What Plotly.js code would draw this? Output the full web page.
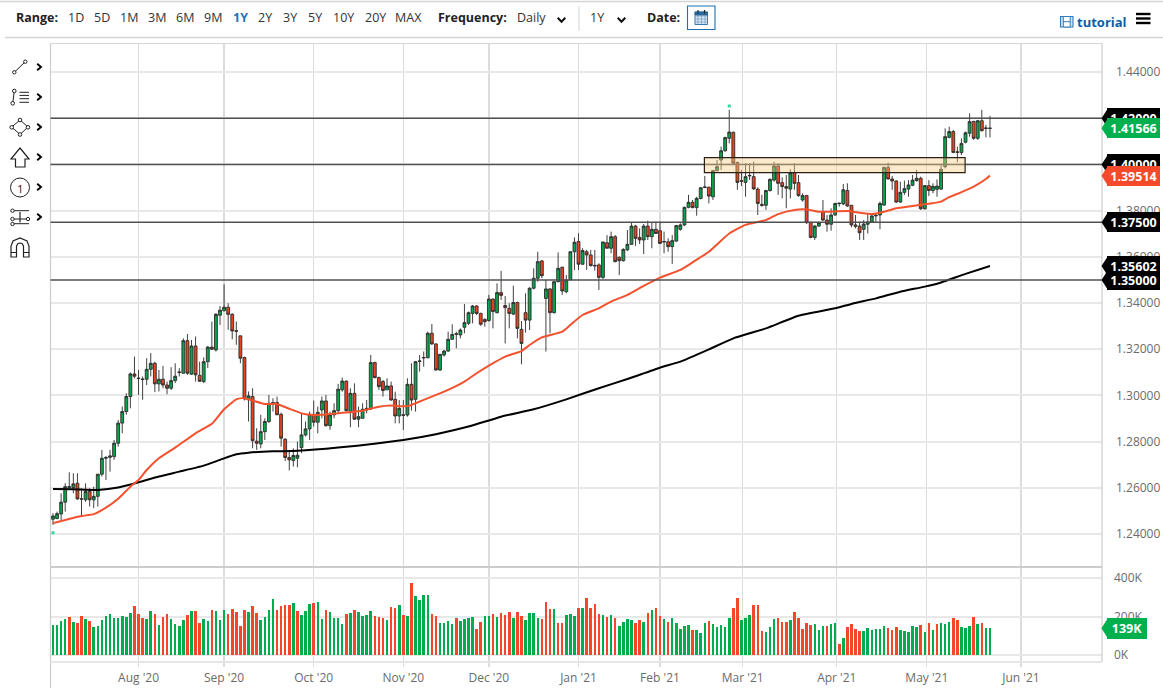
<!DOCTYPE html>
<html><head><meta charset="utf-8">
<script src="https://cdn.plot.ly/plotly-3.0.1.min.js"></script>
<style>html,body{margin:0;padding:0;background:#fff}#chart{width:1163px;height:696px}</style>
</head><body><div id="chart"></div>
<script>
// Daily candles, each row: open, high, low, close
const candlesSummer = [
[1.2464,1.2490,1.2439,1.2478],[1.2467,1.2497,1.2464,1.2488],[1.2487,1.2576,1.2461,1.2538],[1.2538,1.2620,1.2497,1.2605],[1.2601,1.2667,1.2598,1.2605],[1.2601,1.2663,1.2576,1.2617],[1.2620,1.2663,1.2548,1.2552],[1.2553,1.2598,1.2480,1.2551],[1.2548,1.2620,1.2540,1.2584],[1.2584,1.2598,1.2519,1.2548],
[1.2548,1.2605,1.2512,1.2563],[1.2563,1.2659,1.2519,1.2659],[1.2659,1.2764,1.2649,1.2728],[1.2728,1.2738,1.2634,1.2731],[1.2732,1.2764,1.2670,1.2738],[1.2735,1.2807,1.2721,1.2793],[1.2793,1.2894,1.2778,1.2880],[1.2880,1.2952,1.2836,1.2930],[1.2930,1.3009,1.2916,1.2995],[1.2995,1.3099,1.2944,1.3093],
[1.3093,1.3168,1.3074,1.3083],[1.3075,1.3110,1.3002,1.3073],[1.3071,1.3082,1.2981,1.3069],[1.3070,1.3161,1.3045,1.3113],[1.3113,1.3183,1.3082,1.3139],[1.3139,1.3146,1.3014,1.3050],[1.3050,1.3110,1.3017,1.3070],[1.3070,1.3128,1.3031,1.3045],[1.3045,1.3060,1.3005,1.3031],[1.3031,1.3122,1.3024,1.3064],
[1.3064,1.3139,1.3053,1.3083],[1.3099,1.3118,1.3082,1.3101],[1.3096,1.3247,1.3096,1.3237],[1.3237,1.3266,1.3089,1.3096],[1.3092,1.3240,1.3089,1.3214],[1.3214,1.3255,1.3060,1.3089],[1.3087,1.3146,1.3060,1.3061],[1.3060,1.3165,1.3053,1.3146],[1.3146,1.3214,1.3118,1.3209],[1.3209,1.3320,1.3197,1.3200],
[1.3197,1.3356,1.3190,1.3351],[1.3347,1.3387,1.3305,1.3369],[1.3367,1.3481,1.3363,1.3382],[1.3382,1.3399,1.3284,1.3351],[1.3351,1.3356,1.3243,1.3279],[1.3280,1.3320,1.3219,1.3278],[1.3258,1.3258,1.3139,1.3161],[1.3164,1.3168,1.2978,1.2985],[1.2981,1.3017,1.2887,1.2998],[1.2995,1.3031,1.2771,1.2804],
[1.2802,1.2858,1.2764,1.2793],[1.2790,1.2916,1.2771,1.2843],[1.2843,1.2901,1.2807,1.2887],[1.2887,1.3002,1.2880,1.2966],[1.2963,1.2988,1.2930,1.2969],[1.2969,1.2995,1.2916,1.2916],[1.2918,1.2926,1.2778,1.2815],[1.2810,1.2815,1.2716,1.2731],[1.2731,1.2757,1.2675,1.2721],[1.2718,1.2771,1.2692,1.2740],
[1.2728,1.2800,1.2689,1.2741],[1.2774,1.2923,1.2750,1.2829],[1.2829,1.2887,1.2822,1.2855],[1.2855,1.2930,1.2807,1.2918],[1.2918,1.2978,1.2865,1.2884],[1.2884,1.2952,1.2836,1.2927],[1.2937,1.2995,1.2901,1.2976],[1.2976,1.3002,1.2865,1.2869],[1.2869,1.2930,1.2851,1.2916],[1.2916,1.2966,1.2901,1.2934],
[1.2934,1.3050,1.2923,1.3027]];
const candlesAutumn = [
[1.3024,1.3077,1.3016,1.3062],[1.3062,1.3064,1.2930,1.2934],[1.2930,1.3031,1.2862,1.3009],[1.3009,1.3052,1.2894,1.2897],[1.2897,1.2951,1.2862,1.2908],[1.2901,1.2966,1.2901,1.2940],[1.2937,1.2980,1.2922,1.2944],[1.2941,1.3175,1.2937,1.3142],[1.3142,1.3146,1.3074,1.3077],
[1.3077,1.3081,1.3024,1.3038],[1.3060,1.3067,1.2995,1.3021],[1.3024,1.3074,1.3024,1.3041],[1.3041,1.3060,1.2977,1.2980],[1.2983,1.3016,1.2879,1.2911],[1.2911,1.2980,1.2879,1.2944],[1.2916,1.2980,1.2850,1.2914],[1.2915,1.3074,1.2908,1.3048],[1.3048,1.3139,1.2934,1.2980],[1.2983,1.3149,1.2930,1.3146],
[1.3147,1.3175,1.3103,1.3149],[1.3162,1.3190,1.3124,1.3164],[1.3163,1.3276,1.3161,1.3269],[1.3269,1.3309,1.3218,1.3223],[1.3223,1.3225,1.3107,1.3110],[1.3110,1.3178,1.3107,1.3178],[1.3175,1.3197,1.3168,1.3192],[1.3192,1.3276,1.3188,1.3243],[1.3243,1.3308,1.3240,1.3264],[1.3267,1.3276,1.3204,1.3265],
[1.3262,1.3290,1.3247,1.3283],[1.3295,1.3396,1.3269,1.3315],[1.3312,1.3363,1.3305,1.3358],[1.3355,1.3391,1.3312,1.3387],[1.3387,1.3391,1.3348,1.3355],[1.3355,1.3358,1.3301,1.3308],[1.3329,1.3334,1.3298,1.3319],[1.3324,1.3435,1.3319,1.3417],[1.3417,1.3420,1.3290,1.3363],[1.3358,1.3485,1.3355,1.3445],
[1.3445,1.3539,1.3413,1.3433],[1.3389,1.3430,1.3225,1.3380],[1.3377,1.3399,1.3290,1.3355],[1.3352,1.3475,1.3348,1.3402],[1.3402,1.3406,1.3247,1.3290],[1.3286,1.3322,1.3135,1.3225],[1.3358,1.3442,1.3272,1.3326],[1.3326,1.3468,1.3283,1.3464],[1.3464,1.3550,1.3459,1.3507],[1.3507,1.3622,1.3492,1.3579],
[1.3582,1.3586,1.3507,1.3518],[1.3420,1.3500,1.3190,1.3461],[1.3461,1.3464,1.3269,1.3358],[1.3358,1.3495,1.3355,1.3492],[1.3492,1.3619,1.3490,1.3550],[1.3555,1.3557,1.3435,1.3452],[1.3449,1.3521,1.3442,1.3500],[1.3500,1.3622,1.3500,1.3622],[1.3622,1.3684,1.3543,1.3663],[1.3666,1.3702,1.3543,1.3568],
[1.3568,1.3637,1.3565,1.3627],[1.3622,1.3630,1.3543,1.3608],[1.3608,1.3630,1.3557,1.3562],[1.3563,1.3630,1.3540,1.3561],[1.3565,1.3572,1.3456,1.3511]];
const candlesWinter = [
[1.3511,1.3665,1.3504,1.3664],[1.3661,1.3694,1.3637,1.3637],[1.3637,1.3709,1.3615,1.3687],[1.3687,1.3694,1.3576,1.3579],[1.3598,1.3601,1.3521,1.3583],[1.3583,1.3637,1.3579,1.3632],[1.3630,1.3716,1.3625,1.3654],[1.3654,1.3748,1.3651,1.3733],[1.3733,1.3738,1.3647,1.3680],[1.3684,1.3723,1.3655,1.3673],
[1.3673,1.3742,1.3612,1.3733],[1.3733,1.3756,1.3673,1.3687],[1.3687,1.3749,1.3637,1.3719],[1.3719,1.3752,1.3699,1.3701],[1.3713,1.3752,1.3655,1.3658],[1.3664,1.3709,1.3615,1.3666],[1.3665,1.3680,1.3622,1.3644],[1.3644,1.3694,1.3569,1.3670],[1.3668,1.3738,1.3665,1.3735],[1.3719,1.3745,1.3713,1.3738],
[1.3738,1.3817,1.3733,1.3814],[1.3814,1.3868,1.3810,1.3836],[1.3836,1.3846,1.3810,1.3813],[1.3813,1.3860,1.3778,1.3853],[1.3852,1.3899,1.3849,1.3899],[1.3900,1.3950,1.3897,1.3902],[1.3901,1.3904,1.3831,1.3863],[1.3860,1.3976,1.3846,1.3973],[1.3973,1.4019,1.3969,1.3990],[1.4019,1.4077,1.3976,1.4059],
[1.4059,1.4120,1.4055,1.4116],[1.4113,1.4236,1.4091,1.4140],[1.4139,1.4142,1.4002,1.4005],[1.4008,1.4012,1.3890,1.3922],[1.3927,1.3976,1.3906,1.3929],[1.3922,1.4005,1.3860,1.3947],[1.3950,1.4005,1.3932,1.3952],[1.3947,1.4012,1.3890,1.3894],[1.3893,1.3901,1.3781,1.3831],[1.3827,1.3868,1.3817,1.3823],
[1.3823,1.3890,1.3803,1.3887],[1.3887,1.3940,1.3882,1.3935],[1.3932,1.4012,1.3925,1.3993],[1.3993,1.4005,1.3868,1.3918]];
const candlesSpring = [
[1.3921,1.3944,1.3853,1.3904],[1.3904,1.3954,1.3810,1.3897],[1.3893,1.3979,1.3853,1.3964],[1.3964,1.4005,1.3890,1.3918],[1.3921,1.3954,1.3860,1.3865],[1.3846,1.3875,1.3839,1.3865],[1.3865,1.3868,1.3742,1.3748],[1.3749,1.3752,1.3680,1.3684],[1.3684,1.3738,1.3673,1.3733],[1.3733,1.3752,1.3730,1.3748],
[1.3795,1.3846,1.3756,1.3759],[1.3759,1.3781,1.3709,1.3741],[1.3741,1.3810,1.3713,1.3781],[1.3781,1.3834,1.3778,1.3831],[1.3830,1.3834,1.3817,1.3832],[1.3829,1.3915,1.3824,1.3890],[1.3887,1.3918,1.3817,1.3820],[1.3823,1.3824,1.3728,1.3738],[1.3738,1.3781,1.3723,1.3732],[1.3733,1.3752,1.3673,1.3704],
[1.3719,1.3759,1.3673,1.3742],[1.3741,1.3788,1.3701,1.3751],[1.3751,1.3781,1.3748,1.3777],[1.3777,1.3788,1.3748,1.3779],[1.3781,1.3839,1.3719,1.3831],[1.3824,1.3990,1.3820,1.3987],[1.3987,1.4008,1.3935,1.3937],[1.3937,1.3950,1.3890,1.3928],[1.3928,1.3932,1.3834,1.3837],[1.3837,1.3925,1.3834,1.3879],
[1.3879,1.3930,1.3868,1.3895],[1.3893,1.3932,1.3860,1.3911],[1.3910,1.3954,1.3906,1.3932],[1.3930,1.3976,1.3925,1.3940],[1.3940,1.3947,1.3803,1.3808],[1.3808,1.3911,1.3805,1.3908],[1.3908,1.3932,1.3863,1.3887],[1.3887,1.3918,1.3875,1.3905],[1.3892,1.3935,1.3860,1.3906],[1.3893,1.3997,1.3890,1.3979],
[1.3990,1.4156,1.3983,1.4120],[1.4117,1.4163,1.4113,1.4142],[1.4142,1.4149,1.4048,1.4052],[1.4052,1.4077,1.4009,1.4054],[1.4051,1.4113,1.4041,1.4091],[1.4096,1.4142,1.4091,1.4137],[1.4135,1.4221,1.4120,1.4185],[1.4186,1.4189,1.4106,1.4113],[1.4113,1.4192,1.4106,1.4189],[1.4189,1.4236,1.4142,1.4146],
[1.4158,1.4171,1.4117,1.4156],[1.4156,1.4210,1.4117,1.41566]];

// Volume in thousands, and the colour of each volume bar (G up, R down)
const volumeFirstHalf = [154,154,178,185,197,171,168,202,187,176,145,152,183,201,211,190,192,202,197,216,253,211,192,189,228,211,154,199,211,185,161,151,183,208,228,228,166,189,175,234,230,182,234,213,237,225,151,235,223,256,218,182,197,234,289,232,254,258,261,270,228,208,230,266,270,277,185,235,223,192,190,159,215,218,234,225,204,206,227,204,197,192,182,249,242,260,208,202,374,306,285,311,311,213,201,168,166,178,161,192,175,185,190,197,133,170,202,201,211,199,218,209,225,195,225];
const volumeSecondHalf = [202,182,218,218,192,187,273,239,239,168,166,208,211,202,244,246,294,244,265,213,208,197,208,195,152,171,185,180,168,180,170,220,232,246,202,189,170,190,166,137,152,157,131,131,114,168,175,161,145,156,145,195,246,296,183,192,209,258,258,125,121,147,187,192,171,170,182,223,190,135,164,154,159,130,151,151,161,166,57,88,144,159,135,126,123,138,131,135,135,152,140,130,144,130,125,121,151,147,156,119,164,131,161,166,163,171,192,180,145,140,152,199,161,168,138,139];
const volumeColorsFirstHalf = "GGGGRGRRGR"+"GGGGGGGGGG"+"RRRGGRGRRG"+"GGGRGRRGGR"+"GGGRRRRRGR"+"RGGGGRRRRG"+"RGGGRGGRGG"+"GGRGRGGGGR"+"RRGRRGRGRG"+"GGGRRGGGGR"+"GGGGRRGGRG"+"RRRGR";
const volumeColorsSecondHalf = "RGGGG"+"RRRGRRGGGR"+"GRRRRGRGRG"+"GGGRRGRGRR"+"GRGGGGGRGG"+"GRGGGGGRRG"+"GGRRRGGGRR"+"RGRRRRRGGG"+"RGGRGRRRRG"+"GGGGGRRRGG"+"GGGRGRGRGG"+"GRRGGGRGRG"+"G";

// Moving averages at the bars named in the index lists
const redAverageBars = [0,3,7,10,13,16,19,21,23,26,30,35,39,42,45,47,49,52,55,58,62,66,70,76,80,83,87,89,93,96,101,104,107,111,115,117,120,125,127,130,134,137,141,145,149,154,157,161,166,170,175,178,182,185,188,195,198,201,204,207,211,215,218,220,223,226,229,230];
const redAverage = [1.2447,1.2461,1.2478,1.2486,1.2514,1.2553,1.2605,1.2634,1.2677,1.2728,1.2774,1.2836,1.2877,1.2940,1.2983,1.2988,1.2978,1.2963,1.2963,1.2942,1.2918,1.2916,1.2923,1.2934,1.2951,1.2956,1.2953,1.2966,1.2995,1.3016,1.3060,1.3096,1.3129,1.3168,1.3192,1.3218,1.3251,1.3276,1.3305,1.3348,1.3377,1.3406,1.3435,1.3474,1.3510,1.3543,1.3576,1.3622,1.3701,1.3738,1.3759,1.3785,1.3803,1.3805,1.3795,1.3798,1.3791,1.3785,1.3795,1.3810,1.3820,1.3830,1.3839,1.3858,1.3880,1.3904,1.3937,1.39514];
const blackAverageBars = [0,5,11,16,21,26,31,37,41,45,48,54,60,70,86,94,102,110,118,126,134,141,149,154,161,167,175,183,192,196,202,208,214,218,224,230];
const blackAverage = [1.2595,1.2594,1.2591,1.2601,1.2624,1.2649,1.2670,1.2696,1.2721,1.2745,1.2752,1.2758,1.2760,1.2774,1.2807,1.2832,1.2865,1.2908,1.2940,1.2983,1.3031,1.3071,1.3120,1.3146,1.3199,1.3247,1.3290,1.3345,1.3377,1.3396,1.3420,1.3449,1.3471,1.3489,1.3526,1.35602];

// Axes, levels and labels
const priceTicks = [1.24,1.26,1.28,1.30,1.32,1.34,1.36,1.38,1.40,1.42,1.44];
const volumeTicks = [0,200,400];
const volumeTickLabels = ["0K","200K","400K"];
const monthLabels = ["Aug '20","Sep '20","Oct '20","Nov '20","Dec '20","Jan '21","Feb '21","Mar '21","Apr '21","May '21","Jun '21"];
const monthBars = [21,42,64,86,107,129,149,169.3,192.4,214.5,237.6];
const levelLines = [1.42,1.40,1.375,1.35];
const zoneBars = [159.9,223.9];
const zonePrices = [1.3964,1.4029];
const markerBars = [166,0];
const markerPrices = [1.4253,1.2405];
const rangeLabels = ["1D","5D","1M","3M","6M","9M","1Y","2Y","3Y","5Y","10Y","20Y","MAX"];
const rangeCentres = [76,102,129,157,185,213,240,265,290,315,344,375,408];

const W=1163,H=696;
const FONT='"Open Sans", "Noto Sans", sans-serif';
const candles=[...candlesSummer,...candlesAutumn,...candlesWinter,...candlesSpring];
const volumes=[...volumeFirstHalf,...volumeSecondHalf];
const volColors=(volumeColorsFirstHalf+volumeColorsSecondHalf).split('');
const bars=candles.map((_,i)=>i);
const px=x=>x/W, py=y=>1-y/H;
const UP='#05a64c',DOWN='#e8431f',WICK='#2b2b2b';

const traces=[
 {type:'candlestick',x:bars,open:candles.map(r=>r[0]),high:candles.map(r=>r[1]),low:candles.map(r=>r[2]),close:candles.map(r=>r[3]),
  increasing:{line:{color:WICK,width:0.9},fillcolor:UP},decreasing:{line:{color:WICK,width:0.9},fillcolor:DOWN},
  whiskerwidth:0,xaxis:'x',yaxis:'y',hoverinfo:'skip'},
 {type:'scatter',mode:'lines',x:blackAverageBars,y:blackAverage,line:{color:'#000',width:2,shape:'spline',smoothing:.5},xaxis:'x',yaxis:'y',hoverinfo:'skip'},
 {type:'scatter',mode:'lines',x:redAverageBars,y:redAverage,line:{color:'#f4512f',width:2,shape:'spline',smoothing:.5},xaxis:'x',yaxis:'y',hoverinfo:'skip'},
 {type:'scatter',mode:'markers',x:markerBars,y:markerPrices,marker:{color:'#35d6a6',size:3,symbol:'square'},xaxis:'x',yaxis:'y',hoverinfo:'skip'},
 {type:'bar',x:volumes.map((_,i)=>i),y:volumes,width:0.62,marker:{color:volColors.map(c=>c==='G'?'#00ad4e':'#f4472a'),line:{width:0}},xaxis:'x2',yaxis:'y2',hoverinfo:'skip'}
];

const shapes=[], annos=[];
const line=(x0,y0,x1,y1,color,width)=>shapes.push({type:'line',xref:'paper',yref:'paper',x0:px(x0),y0:py(y0),x1:px(x1),y1:py(y1),line:{color,width},layer:'above'});
const path=(pts,color,width,fill)=>shapes.push({type:'path',xref:'paper',yref:'paper',layer:'above',
  path:pts.map(a=>a===null?'Z':(a[2]?'M':'L')+px(a[0])+' '+py(a[1])).join(' ').replace(/^L/,'M'),
  line:{color,width},fillcolor:fill||'rgba(0,0,0,0)'});
const circle=(cx,cy,r,color,width,fill)=>shapes.push({type:'circle',xref:'paper',yref:'paper',layer:'above',x0:px(cx-r),x1:px(cx+r),y0:py(cy-r),y1:py(cy+r),line:{color,width},fillcolor:fill||'#fff'});
const rect=(x0,y0,x1,y1,color,width,fill)=>shapes.push({type:'rect',xref:'paper',yref:'paper',layer:'above',x0:px(x0),x1:px(x1),y0:py(y0),y1:py(y1),line:{color,width},fillcolor:fill||'rgba(0,0,0,0)'});
const text=(t,x,y,opt={})=>annos.push({text:t,xref:'paper',yref:'paper',x:px(x),y:py(y),xanchor:opt.a||'left',yanchor:'middle',showarrow:false,
  font:{family:FONT,size:opt.size||12.5,color:opt.color||'#333'}});

// Frame
line(0,1.5,W,1.5,'#d4d4d4',1.5);
line(5,37.5,W,37.5,'#d4d4d4',1.5);
line(50.5,43.5,1102,43.5,'#d6d6d6',1.2);
line(50.5,43.5,50.5,688,'#cccccc',1.2);
line(1102,43.5,1102,662,'#cccccc',1.2);
line(50.5,567,1102,567,'#cccccc',2);
line(50.5,662,1102,662,'#e6e6e6',2);

// Levels and zone, in data coordinates
levelLines.forEach(v=>shapes.push({type:'line',xref:'paper',yref:'y',x0:px(50.5),x1:px(1102),y0:v,y1:v,line:{color:'#505050',width:1.5},layer:'above'}));
shapes.push({type:'rect',xref:'x',yref:'y',x0:zoneBars[0],x1:zoneBars[1],y0:zonePrices[0],y1:zonePrices[1],line:{color:'#2a2015',width:1.2},fillcolor:'rgba(247,205,135,0.42)',layer:'above'});

// Price tags
const tag=(label,value,color,yref,halfPx,pxPerUnit,right)=>{
  const d=halfPx/pxPerUnit;
  const rightEdge=right||1160;
  shapes.push({type:'path',xref:'paper',yref,layer:'above',
    path:`M${px(1101.5)} ${value} L${px(1108)} ${value+d} L${px(1108)} ${value-d} Z`,line:{width:0},fillcolor:color});
  annos.push({text:'<b>'+label+'</b>',xref:'paper',yref,x:px((1107+rightEdge)/2),y:value,xanchor:'center',yanchor:'middle',showarrow:false,
    width:rightEdge-1107,height:halfPx*2,bgcolor:color,borderpad:0,borderwidth:0,align:'center',font:{family:FONT,size:12.5,color:'#fff'}});
};
const PP=2310;
tag('1.42000',1.42,'#000','y',10,PP);
tag('1.41566',1.41566,'#00b04f','y',10,PP);
tag('1.40000',1.40,'#000','y',10,PP);
tag('1.39514',1.39514,'#f4492b','y',10,PP);
tag('1.37500',1.375,'#000','y',10,PP);
tag('1.35000',1.35,'#000','y',10,PP);
tag('1.35602',1.35602,'#000','y',10,PP);
tag('139K',139,'#00b04f','y2',10.5,0.1925,1147);

// Toolbar
text('<b>Range:</b>',14,17.5,{color:'#222'});
rangeLabels.forEach((l,i)=>text(l==='1Y'?'<b>1Y</b>':l,rangeCentres[i],17.5,{a:'center',color:l==='1Y'?'#2673b8':'#333'}));
text('<b>Frequency:</b>',436,17.5,{color:'#222'});
text('Daily',515,17.5);
text('1Y',588,17.5);
text('<b>Date:</b>',645,17.5,{color:'#222'});
text('<b>tutorial</b>',1075,22,{color:'#0b5fa5',size:13});
const chev=(cx,cy)=>path([[cx-3.8,cy-2.2,1],[cx,cy+1.8],[cx+3.8,cy-2.2]],'#111',2);
chev(561.5,20);chev(621.5,20);
line(579,6,579,31,'#d4d4d4',1);
// calendar button
rect(687.5,6,715,29.5,'#1f6fb2',1.1,'#fff');
rect(695,12,707.5,24.5,'#3b79ad',1,'#dbe7f2');
[698,701.5,705].forEach(x=>line(x,13,x,24,'#6d9cc2',.7));
[16,19,22].forEach(y=>line(695,y,707.5,y,'#6d9cc2',.7));
rect(695,12,707.5,15,'#2a5f8d',.8,'#2a6ea5');
line(698,10,698,13.5,'#222',1.2);line(704.5,10,704.5,13.5,'#222',1.2);
// film icon
rect(1060.5,16.5,1073,27,'#2f7dbd',1.1,'#cfe2f2');
rect(1063.3,16.5,1070.2,27,'#2f7dbd',1,'#fff');
line(1063.3,21.7,1070.2,21.7,'#2f7dbd',1);
// hamburger
[14,18.5,23].forEach(y=>line(1136,y,1150.5,y,'#000',2.4));

// Drawing tools
const ch=(y)=>path([[37.2,y-3.3,1],[41,y],[37.2,y+3.3]],'#000',1.9);
const IC='#222';
line(14.3,72.3,25.3,61.7,IC,1);circle(14.3,72.3,1.7,IC,1);circle(25.3,61.7,1.7,IC,1);ch(67);
line(12.7,103.3,14.3,91,IC,1);circle(12.7,103.3,1.8,IC,1);circle(14.3,91,1.8,IC,1);
[92.3,95.4,98.7,102.3].forEach(y=>line(19.5,y,29,y,IC,1));ch(97);
path([[20,120,1],[28,127],[20,134.5],[11.7,127],null],IC,1);
[[20,120],[28,127.3],[20,134.5],[11.7,127.3]].forEach(p=>circle(p[0],p[1],1.8,IC,1));ch(127);
path([[20,148,1],[29,159],[25,159],[25,167],[15.5,167],[15.5,159],[11,159],null],IC,1.2);ch(157);
circle(20,187.5,9.5,IC,1);text('1',20,188,{a:'center',size:11.5,color:'#222'});ch(187);
line(13,210.7,29,210.7,IC,1);line(13,223.7,29,223.7,IC,1);line(14,219,26,219,IC,1);line(20,212,20,222.5,IC,1.2);
circle(12.5,210.7,1.7,IC,1);circle(12.5,219,1.7,IC,1);circle(12.5,224,1.7,IC,1);circle(28,219,1.7,IC,1);ch(217);
path([[11,257,1],[11,246],[13,241],[20,238],[27,241],[29,246],[29,257],[23.5,257],[23.5,246],[22,243.5],[20,243],[18,243.5],[16.5,246],[16.5,257],null],IC,1.2);
line(11,252.5,16.5,252.5,IC,1);line(23.5,252.5,29,252.5,IC,1);

const baseX={domain:[px(50.5),px(1102)],range:[-0.61,257.5],showline:false,zeroline:false,ticks:'',tickvals:monthBars,ticktext:monthLabels,
  showgrid:true,gridcolor:'#dcdcdc',gridwidth:1.3,fixedrange:true};
const layout={
 width:W,height:H,margin:{l:0,r:0,t:0,b:0},paper_bgcolor:'#fff',plot_bgcolor:'#fff',showlegend:false,bargap:0,boxgap:0,dragmode:false,
 font:{family:FONT,size:12,color:'#6b6b6b'},
 xaxis:{...baseX,anchor:'y',showticklabels:false,rangeslider:{visible:false}},
 yaxis:{domain:[py(566),py(44)],range:[1.22615,1.45212],side:'right',anchor:'x',tickvals:priceTicks,tickformat:'.5f',ticks:'',zeroline:false,showline:false,
   gridcolor:'#e8e8e8',gridwidth:2,ticklabelstandoff:13,fixedrange:true,tickfont:{family:FONT,size:12,color:'#6b6b6b'}},
 xaxis2:{...baseX,anchor:'y2',showticklabels:true,ticklabelstandoff:2,tickfont:{family:FONT,size:12,color:'#6b6b6b'}},
 yaxis2:{domain:[py(667),py(568)],range:[-62,452],side:'right',anchor:'x2',tickvals:volumeTicks,ticktext:volumeTickLabels,ticks:'',zeroline:false,showline:false,
   gridcolor:'#e8e8e8',gridwidth:2,ticklabelstandoff:11,fixedrange:true,tickfont:{family:FONT,size:12,color:'#6b6b6b'}},
 shapes,annotations:annos
};
Plotly.newPlot('chart',traces,layout,{displayModeBar:false,staticPlot:true});
</script></body></html>
